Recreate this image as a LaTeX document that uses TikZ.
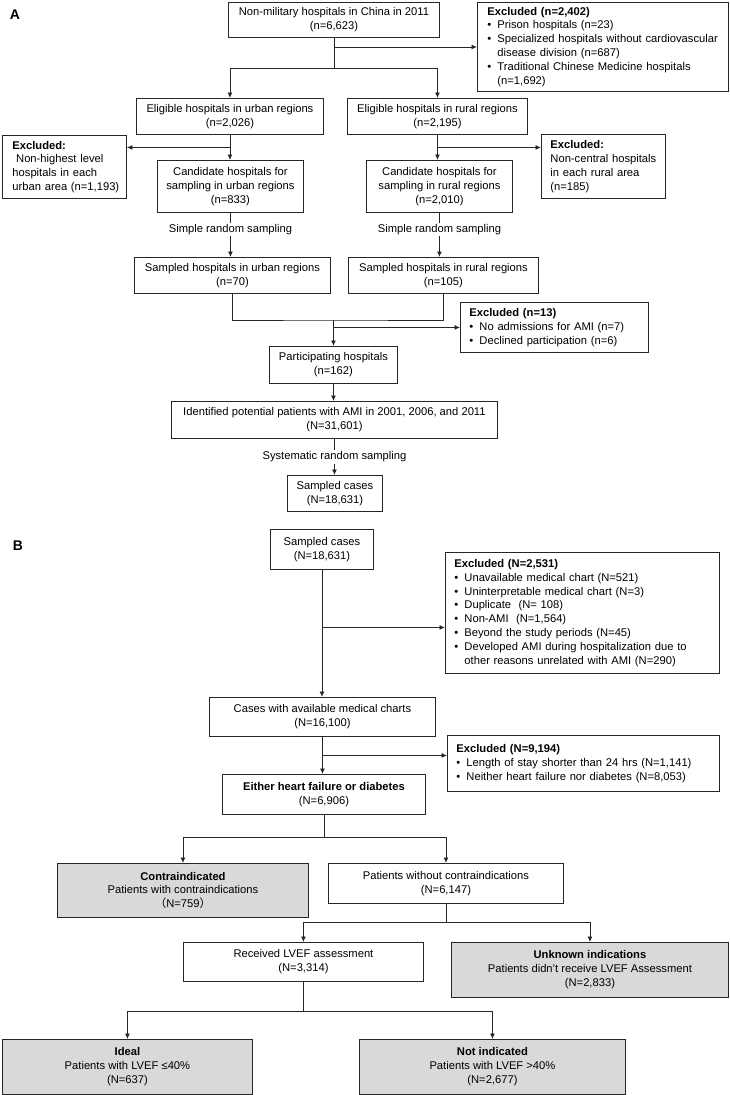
\documentclass[tikz,border=0pt]{standalone}
\usepackage{fontspec}
\setmainfont{Liberation Sans}
\newfontfamily\cjk{Noto Sans CJK SC}
\usetikzlibrary{arrows.meta,calc}
\definecolor{boxgray}{RGB}{217,217,217}
\newcommand{\bul}[1]{\mbox{\makebox[10pt][l]{•}#1}}
\newcommand{\ind}[1]{\mbox{\hspace*{10pt}#1}}

\begin{document}
\begin{tikzpicture}[x=1pt, y=-1pt,
    font=\fontsize{11.2pt}{13.9pt}\selectfont,
    box/.style={draw=black!85, line width=0.9pt, anchor=north west, align=center, inner sep=2pt},
    exbox/.style={box, align=left, inner xsep=9pt},
    shaded/.style={box, fill=boxgray},
    arr/.style={-{Latex[length=5.5pt,width=5pt]}, draw=black!85, line width=0.9pt},
    lnk/.style={draw=black!85, line width=0.9pt},
    lbl/.style={fill=white, inner sep=1.5pt},
    panel/.style={font=\fontsize{14pt}{16pt}\selectfont\bfseries}
  ]
  \useasboundingbox (0,0) rectangle (730,1095);

  % panel A
  \node[panel] (labA) at (15,15) {A};
  \node[box, minimum width=211pt, minimum height=35pt] (top) at (228,2)
    {Non-military hospitals in China in 2011\\(n=6,623)};
  \node[exbox, inner xsep=10pt, text width=231pt, minimum height=89pt] (exclA) at (477,2)
    {\textbf{Excluded (n=2,402)}\\
     \bul{Prison hospitals (n=23)}\\
     \bul{Specialized hospitals without cardiovascular}\\
     \ind{disease division (n=687)}\\
     \bul{Traditional Chinese Medicine hospitals}\\
     \ind{(n=1,692)}};
  \node[box, minimum width=187pt, minimum height=36pt] (urban) at (136,98)
    {Eligible hospitals in urban regions\\(n=2,026)};
  \node[box, minimum width=180pt, minimum height=36pt] (rural) at (347,98)
    {Eligible hospitals in rural regions\\(n=2,195)};
  \node[exbox, inner xsep=10pt, text width=104pt, minimum height=63pt] (exclU) at (2,135)
    {\textbf{Excluded:}\\
     \mbox{\ Non-highest level}\\
     \mbox{hospitals in each}\\
     \mbox{urban area (n=1,193)}};
  \node[exbox, text width=106pt, minimum height=64pt] (exclR) at (541,134)
    {\textbf{Excluded:}\\
     \mbox{Non-central hospitals}\\
     \mbox{in each rural area}\\
     \mbox{(n=185)}};
  \node[box, minimum width=146pt, minimum height=52pt] (candU) at (157,160)
    {Candidate hospitals for\\sampling in urban regions\\(n=833)};
  \node[box, minimum width=146pt, minimum height=52pt] (candR) at (366,160)
    {Candidate hospitals for\\sampling in rural regions\\(n=2,010)};
  \node[box, minimum width=196pt, minimum height=36pt] (sampU) at (134,257)
    {Sampled hospitals in urban regions\\(n=70)};
  \node[box, minimum width=190pt, minimum height=36pt] (sampR) at (348,257)
    {Sampled hospitals in rural regions\\(n=105)};
  \node[exbox, text width=170pt, minimum height=50pt] (excl13) at (460,302)
    {\textbf{Excluded (n=13)}\\
     \bul{No admissions for AMI (n=7)}\\
     \bul{Declined participation (n=6)}};
  \node[box, minimum width=128pt, minimum height=37pt] (part) at (269,346)
    {Participating hospitals\\(n=162)};
  \node[box, minimum width=326pt, minimum height=37pt] (ident) at (171,401)
    {Identified potential patients with AMI in 2001, 2006, and 2011\\(N=31,601)};
  \node[box, minimum width=95pt, minimum height=36pt] (casesA) at (287,475)
    {Sampled cases\\(N=18,631)};

  \draw[lnk] (top.south) -- ++(0,31) coordinate (sA);
  \draw[arr] (sA) -| (urban.north);
  \draw[arr] (sA) -| (rural.north);
  \draw[arr] (top.south |- exclA.west) -- (exclA.west);
  \draw[arr] (urban.south) -- (urban.south |- candU.north);
  \draw[arr] (rural.south) -- (rural.south |- candR.north);
  \coordinate (mU) at ($(urban.south)!.5!(urban.south |- candU.north)$);
  \coordinate (mR) at ($(rural.south)!.5!(rural.south |- candR.north)$);
  \draw[arr] (mU) -- (mU -| exclU.east);
  \draw[arr] (mR) -- (mR -| exclR.west);
  \draw[arr] (candU.south) -- node[lbl, pos=.38] {Simple random sampling} (candU.south |- sampU.north);
  \draw[arr] (candR.south) -- node[lbl, pos=.38] {Simple random sampling} (candR.south |- sampR.north);
  \coordinate (jA) at ($(part.north)+(0,-26)$);
  \draw[lnk] (sampU.south) |- (jA) -| (sampR.south);
  \draw[arr] (jA) -- (part.north);
  \draw[arr] (part.north |- excl13.west) -- (excl13.west);
  \draw[arr] (part.south) -- (part.south |- ident.north);
  \draw[arr] (ident.south) -- node[lbl, pos=.5] {Systematic random sampling} (ident.south |- casesA.north);

  % panel B
  \node[panel] (labB) at (18,546) {B};
  \node[box, minimum width=103pt, minimum height=40pt] (sampB) at (270,529)
    {Sampled cases\\(N=18,631)};
  \node[exbox, text width=256pt, minimum height=121pt] (exclB1) at (445,552)
    {\textbf{Excluded (N=2,531)}\\
     \bul{Unavailable medical chart (N=521)}\\
     \bul{Uninterpretable medical chart (N=3)}\\
     \bul{Duplicate~ (N= 108)}\\
     \bul{Non-AMI~ (N=1,564)}\\
     \bul{Beyond the study periods (N=45)}\\
     \bul{Developed AMI during hospitalization due to}\\
     \ind{other reasons unrelated with AMI (N=290)}};
  \node[box, minimum width=226pt, minimum height=39pt] (avail) at (209,697)
    {Cases with available medical charts\\(N=16,100)};
  \node[exbox, text width=254pt, minimum height=56pt] (exclB2) at (447,735)
    {\textbf{Excluded (N=9,194)}\\
     \bul{Length of stay shorter than 24 hrs (N=1,141)}\\
     \bul{Neither heart failure nor diabetes (N=8,053)}};
  \node[box, minimum width=203pt, minimum height=40pt] (either) at (222,774)
    {\textbf{Either heart failure or diabetes}\\(N=6,906)};
  \node[shaded, minimum width=251pt, minimum height=54pt] (contra) at (57,863)
    {\textbf{Contraindicated}\\Patients with contraindications\\{\cjk （}N=759{\cjk ）}};
  \node[box, minimum width=235pt, minimum height=40pt] (without) at (328,863)
    {Patients without contraindications\\(N=6,147)};
  \node[box, minimum width=240pt, minimum height=39pt] (recv) at (183,942)
    {Received LVEF assessment\\(N=3,314)};
  \node[shaded, minimum width=277pt, minimum height=55pt] (unknown) at (451,942)
    {\textbf{Unknown indications}\\Patients didn't receive LVEF Assessment\\(N=2,833)};
  \node[shaded, minimum width=250pt, minimum height=55pt] (ideal) at (2,1039)
    {\textbf{Ideal}\\Patients with LVEF ≤40\%\\(N=637)};
  \node[shaded, minimum width=266pt, minimum height=55pt] (notind) at (359,1039)
    {\textbf{Not indicated}\\Patients with LVEF >40\%\\(N=2,677)};

  \draw[arr] (sampB.south) -- (sampB.south |- avail.north);
  \coordinate (eB1) at ([yshift=-14.5pt]exclB1.west);
  \draw[arr] (eB1 -| sampB.south) -- (eB1);
  \draw[arr] (avail.south) -- (avail.south |- either.north);
  \coordinate (eB2) at ([yshift=8pt]exclB2.west);
  \draw[arr] (eB2 -| avail.south) -- (eB2);
  \draw[lnk] (either.south) -- ++(0,23) coordinate (sB1);
  \draw[arr] (sB1) -| (contra.north);
  \draw[arr] (sB1) -| (without.north);
  \draw[lnk] (without.south) -- ++(0,19) coordinate (sB2);
  \draw[arr] (sB2) -| (recv.north);
  \draw[arr] (sB2) -| (unknown.north);
  \draw[lnk] (recv.south) -- ++(0,30) coordinate (sB3);
  \draw[arr] (sB3) -| (ideal.north);
  \draw[arr] (sB3) -| (notind.north);
\end{tikzpicture}
\end{document}
